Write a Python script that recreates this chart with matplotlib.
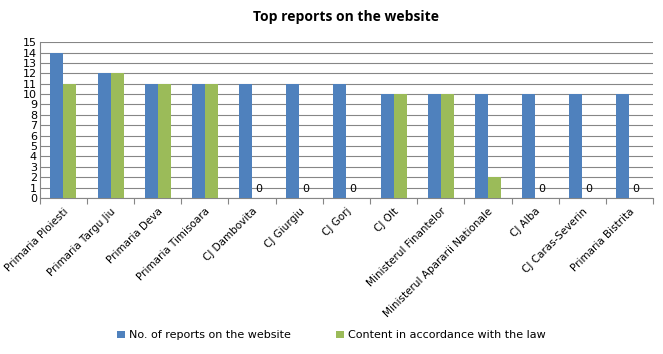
import numpy as np
import matplotlib
matplotlib.use("Agg")
import matplotlib.pyplot as plt

categories = ["Primaria Ploiesti", "Primaria Targu Jiu", "Primaria Deva",
              "Primaria Timisoara", "CJ Dambovita", "CJ Giurgiu", "CJ Gorj",
              "CJ Olt", "Ministerul Finantelor", "Ministerul Apararii Nationale",
              "CJ Alba", "CJ Caras-Severin", "Primaria Bistrita"]
reports = [14, 12, 11, 11, 11, 11, 11, 10, 10, 10, 10, 10, 10]
legal = [11, 12, 11, 11, 0, 0, 0, 10, 10, 2, 0, 0, 0]
series_names = ["No. of reports on the website", "Content in accordance with the law"]

fig = plt.figure(figsize=(6.63, 3.54), dpi=100)
ax = fig.add_axes([0.060, 0.441, 0.925, 0.44])

x = np.arange(len(categories))
w = 0.275
ax.bar(x - w / 2, reports, w, color="#4F81BD", label=series_names[0], zorder=3)
ax.bar(x + w / 2, legal, w, color="#9BBB59", label=series_names[1], zorder=3)

# zero values get a label like in the original
for xi, v in zip(x, legal):
    if v == 0:
        ax.text(xi + w / 2, 0.4, "0", ha="center", va="bottom", fontsize=8,
                family="DejaVu Sans", zorder=4)

ax.set_xlim(-0.5, len(categories) - 0.5)
ax.set_ylim(0, 15)
ax.set_yticks(range(0, 16))
ax.tick_params(axis="y", length=0, labelsize=8, pad=2)
ax.yaxis.grid(True, color="#868686", linewidth=0.8, zorder=0)

ax.set_xticks(np.arange(-0.5, len(categories), 1), minor=False)
ax.set_xticklabels([])
ax.tick_params(axis="x", which="major", length=4, color="#868686", direction="out")
ax.set_xticks(x, minor=True)
ax.set_xticklabels(categories, minor=True, rotation=45, ha="right",
                   rotation_mode="anchor", fontsize=7.5)
ax.tick_params(axis="x", which="minor", length=0, pad=6)

for side in ["top", "right"]:
    ax.spines[side].set_visible(False)
ax.spines["left"].set_color("#868686")
ax.spines["bottom"].set_color("#868686")

ax.set_title("Top reports on the website", fontsize=10, fontweight="bold",
             family="Open Sans", pad=15)

fig.legend(loc="lower center", bbox_to_anchor=(0.5, 0.01), ncol=2, frameon=False,
           fontsize=8, handlelength=0.7, handleheight=0.7, columnspacing=4,
           handletextpad=0.4)

fig.savefig("out.png", dpi=100)
